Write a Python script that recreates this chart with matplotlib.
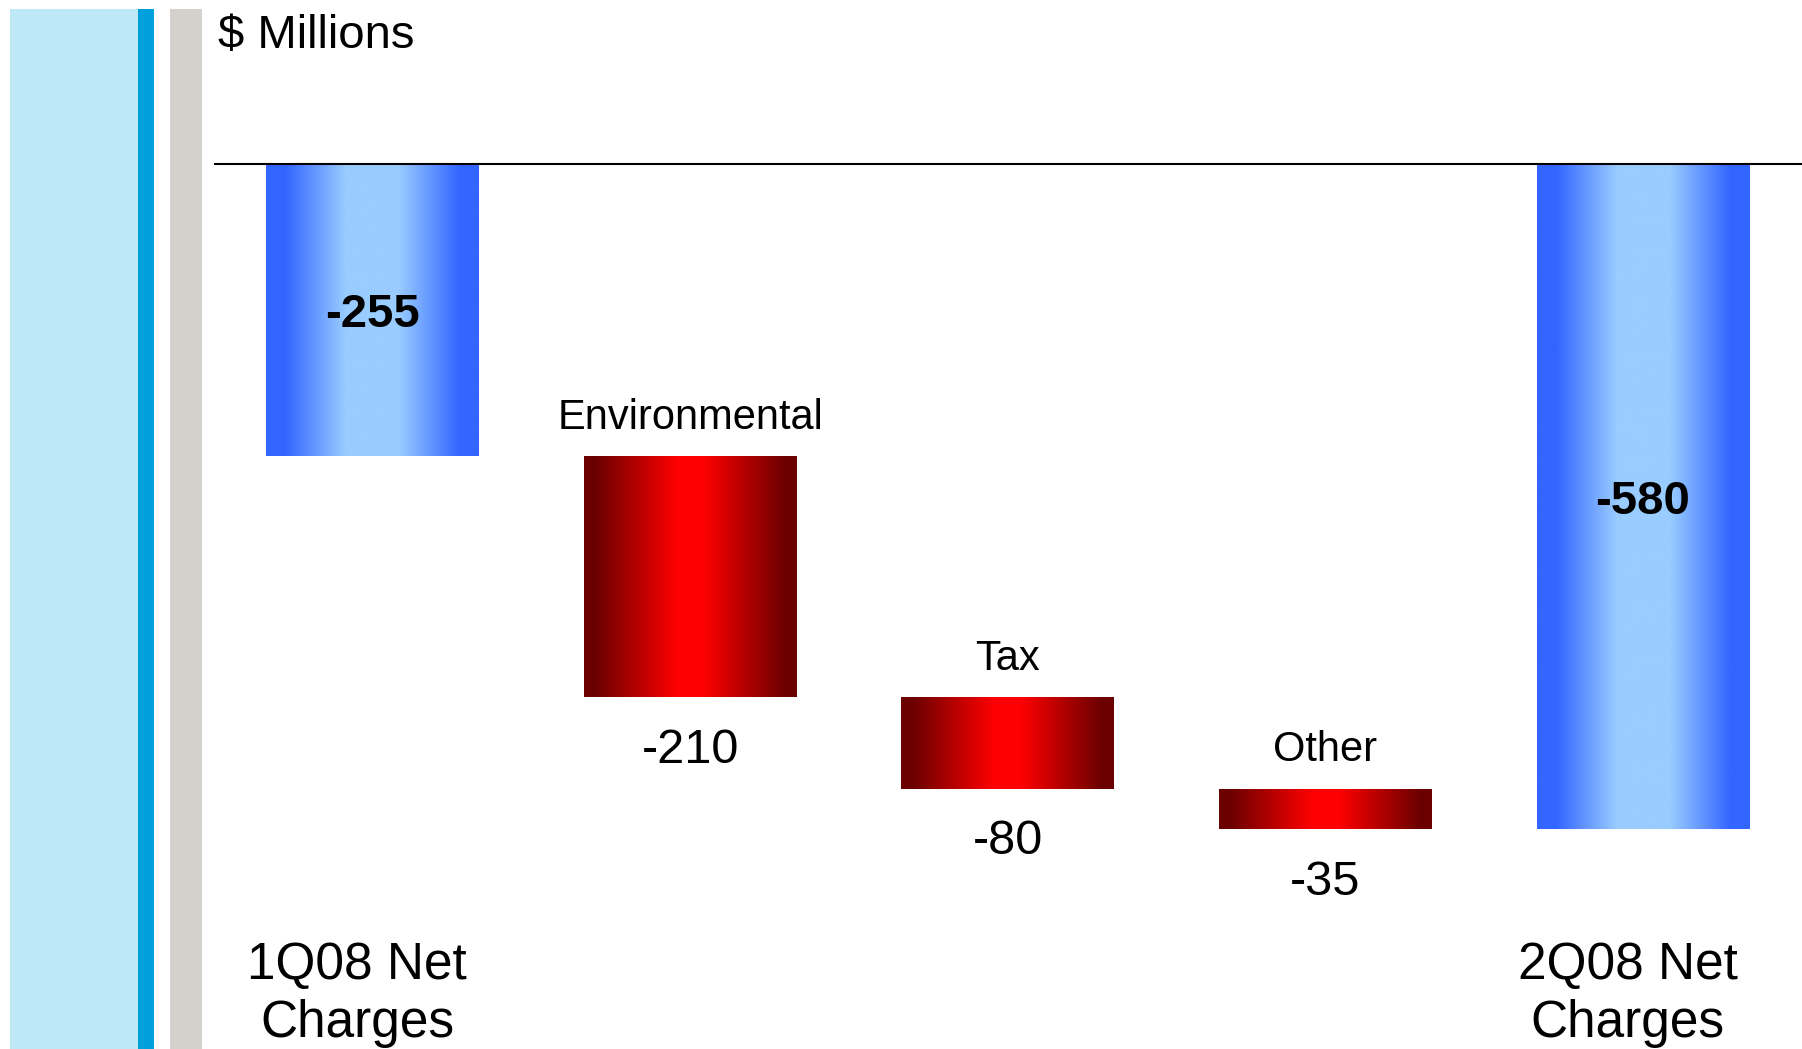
import numpy as np
import matplotlib
matplotlib.use('Agg')
import matplotlib.pyplot as plt
from matplotlib.patches import Rectangle
from matplotlib.colors import to_rgb

plt.rcParams['font.family'] = ['Liberation Sans', 'DejaVu Sans']

# chart data
categories = ["1Q08 Net\nCharges", "Environmental", "Tax", "Other", "2Q08 Net\nCharges"]
values = [-255, -210, -80, -35, -580]
is_total = [True, False, False, False, True]
unit_label = "$ Millions"

W, H = 1802, 1049
fig = plt.figure(figsize=(W / 100, H / 100), dpi=100)

# decorative stripes on the left (figure pixels)
def stripe(x0, x1, y_top, color):
    fig.patches.append(Rectangle((x0 / W, 0), (x1 - x0) / W, (H - y_top) / H,
                                 transform=fig.transFigure, color=color, lw=0, zorder=0))

stripe(10, 138, 9, '#BEE8F5')
stripe(138, 154, 9, '#00A0DC')
stripe(170, 202, 9, '#D4D0CC')

ax = fig.add_axes([0, 0, 1, 1])
ax.set_facecolor('none')
ax.axis('off')

# scale: ~1.147 px per $M, bars every 317.6 px, zero line at y=164 px
px_per_unit = 1.147
step = 317.6


def gradient(edge, center, lo, hi, n=256):
    u = np.linspace(0, 1, n)
    t = np.abs(u - 0.5) / 0.5
    f = np.clip((t - lo) / (hi - lo), 0, 1)
    e = np.array(to_rgb(edge))
    c = np.array(to_rgb(center))
    rgb = c[None, :] + (e - c)[None, :] * f[:, None]
    return rgb[None, :, :]


blue_grad = gradient('#3366FF', '#99CCFF', 0.25, 0.82)
red_grad = gradient('#6A0000', '#FF0000', 0.12, 0.9)

# waterfall geometry
x = np.arange(len(values))
bottoms = []
heights = []
running = 0
for v, tot in zip(values, is_total):
    if tot:
        bottoms.append(0)
        running = v
    else:
        bottoms.append(running)
        running += v
    heights.append(v)

bars = ax.bar(x, heights, bottom=bottoms, width=0.67, color='none', lw=0, zorder=2)

for i, b in enumerate(bars):
    x0, y0 = b.get_x(), b.get_y()
    x1, y1 = x0 + b.get_width(), y0 + b.get_height()
    grad = blue_grad if is_total[i] else red_grad
    im = ax.imshow(grad, extent=[x0, x1, min(y0, y1), max(y0, y1)],
                   aspect='auto', interpolation='bilinear', zorder=2)
    im.set_clip_path(b)

    top = max(y0, y1)
    low = min(y0, y1)
    xc = x0 + b.get_width() / 2
    if is_total[i]:
        ax.text(xc, (top + low) / 2, str(values[i]), ha='center', va='center_baseline',
                fontsize=34, fontweight='bold', zorder=3)
        # last line baseline sits at y=1037 px
        ax.annotate(categories[i], xy=(xc, (H - 1037) / H), xycoords=('data', 'axes fraction'),
                    xytext=(-11, 0), textcoords='offset points', ha='center', va='baseline',
                    fontsize=37, linespacing=1.23)
    else:
        ax.annotate(categories[i], xy=(xc, top), xytext=(0, 20), textcoords='offset points',
                    ha='center', va='baseline', fontsize=30)
        ax.annotate(str(values[i]), xy=(xc, low), xytext=(0, -47), textcoords='offset points',
                    ha='center', va='baseline', fontsize=35)

ax.set_xlim(-372.5 / step, (W - 372.5) / step)
ax.set_ylim(-(H - 164) / px_per_unit, 164 / px_per_unit)

# zero line
ax.plot([-0.5, (W - 372.5) / step], [0, 0], color='black', lw=1.5, zorder=4,
        solid_capstyle='butt')

fig.text(218 / W, (H - 48) / H, unit_label, fontsize=34, va='baseline', ha='left')

fig.savefig('out.png', dpi=100)
